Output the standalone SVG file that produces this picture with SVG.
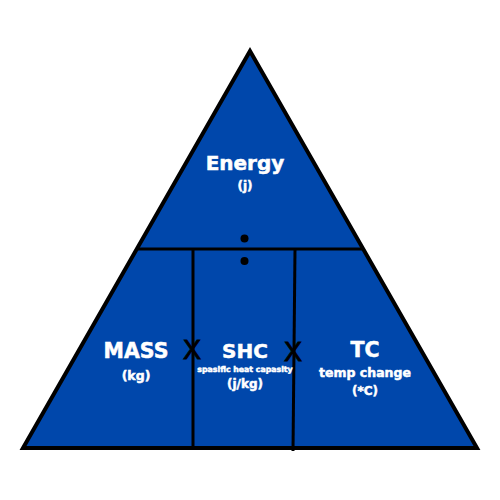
<svg xmlns="http://www.w3.org/2000/svg" width="500" height="500" viewBox="0 0 500 500">
<style>
.t{font-family:"DejaVu Sans","Liberation Sans",Arial,sans-serif;font-weight:bold;fill:#fff;stroke:#fff;stroke-width:0.5;text-anchor:middle}
.x{font-family:"Liberation Sans",Arial,sans-serif;fill:#000;stroke:#000;stroke-width:0.9;text-anchor:middle;font-size:27px}
.ln{stroke:#000;stroke-width:3;fill:none}
</style>
<rect width="500" height="500" fill="#fff"/>
<g id="triangle">
<polygon points="250,51 23,448 477,448" fill="#0047AB" stroke="#000" stroke-width="4" stroke-linejoin="miter"/>
</g>
<g id="connectors">
<line class="ln" x1="136" y1="249" x2="364" y2="249"/>
<line class="ln" x1="193" y1="249" x2="193" y2="448"/>
<line class="ln" x1="295" y1="249" x2="293" y2="451"/>
<circle cx="244.5" cy="238.5" r="4" fill="#000"/>
<circle cx="244.5" cy="261" r="4" fill="#000"/>
<text class="x" x="192" y="359">X</text>
<text class="x" x="293" y="361">X</text>
</g>
<g id="energy">
<text class="t" x="245" y="170" font-size="20">Energy</text>
<text class="t" x="245" y="190" font-size="12">(j)</text>
</g>
<g id="mass">
<text class="t" x="136" y="358" font-size="20.5">MASS</text>
<text class="t" x="136" y="380" font-size="12.5">(kg)</text>
</g>
<g id="shc">
<text class="t" x="245" y="358" font-size="20">SHC</text>
<text class="t" x="245" y="372" font-size="7.8" stroke-width="0.2">spasific heat capasity</text>
<text class="t" x="245" y="388" font-size="12">(j/kg)</text>
</g>
<g id="tc">
<text class="t" x="365" y="357" font-size="20.5">TC</text>
<text class="t" x="365" y="377" font-size="12.5">temp change</text>
<text class="t" x="365" y="395" font-size="12">(*C)</text>
</g>
</svg>
